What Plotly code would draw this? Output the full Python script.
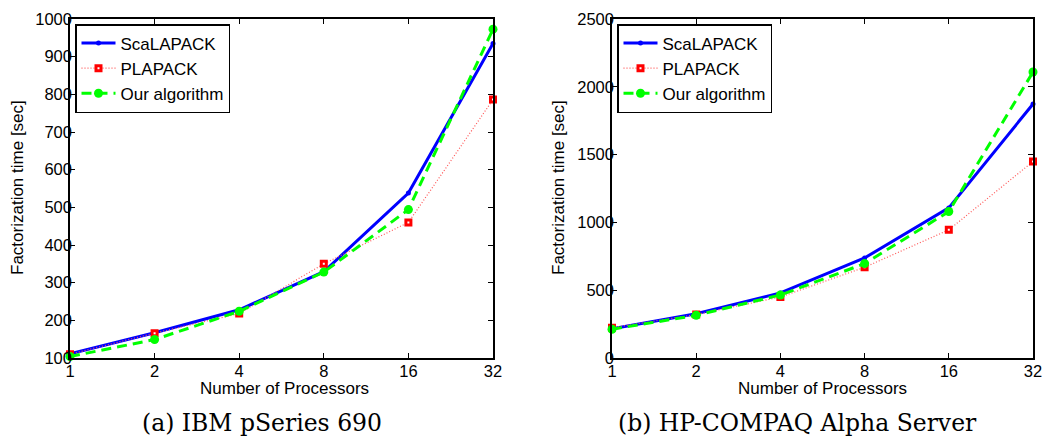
import plotly.graph_objects as go

procs = [1, 2, 4, 8, 16, 32]
tick_labels = ["1", "2", "4", "8", "16", "32"]

# (a) IBM pSeries 690
ibm_scalapack = [111, 167, 228, 329, 538, 935]
ibm_plapack = [110, 166, 218, 350, 460, 786]
ibm_ours = [104, 149, 224, 328, 494, 973]

# (b) HP-COMPAQ Alpha Server
hp_scalapack = [216, 327, 480, 738, 1107, 1873]
hp_plapack = [224, 320, 450, 669, 945, 1449]
hp_ours = [212, 315, 465, 696, 1080, 2109]

series_names = ["ScaLAPACK", "PLAPACK", "Our algorithm"]
captions = ["(a) IBM pSeries 690", "(b) HP-COMPAQ Alpha Server"]
x_title = "Number of Processors"
y_title = "Factorization time [sec]"

BLUE = "#0000ff"
RED = "#ff0000"
GREEN = "#00ff00"

fig = go.Figure()

def add_series(vals, xa, ya, leg):
    s, p, o = vals
    fig.add_trace(go.Scatter(
        x=procs, y=s, name=series_names[0], mode="lines+markers",
        line=dict(color=BLUE, width=3),
        marker=dict(symbol="circle", size=5, color=BLUE),
        xaxis=xa, yaxis=ya, legend=leg, cliponaxis=False))
    fig.add_trace(go.Scatter(
        x=procs, y=p, name=series_names[1], mode="lines+markers",
        line=dict(color="#ff5555", width=1.2, dash="1px,2px"),
        marker=dict(symbol="square", size=5, color="white",
                    line=dict(color=RED, width=3)),
        xaxis=xa, yaxis=ya, legend=leg, cliponaxis=False))
    fig.add_trace(go.Scatter(
        x=procs, y=o, name=series_names[2], mode="lines+markers",
        line=dict(color=GREEN, width=3, dash="10px,6px"),
        marker=dict(symbol="circle", size=9, color=GREEN),
        xaxis=xa, yaxis=ya, legend=leg, cliponaxis=False))

add_series((ibm_scalapack, ibm_plapack, ibm_ours), "x", "y", "legend")
add_series((hp_scalapack, hp_plapack, hp_ours), "x2", "y2", "legend2")

# The page body has an 8px margin: the figure starts at (8, 8) in the window,
# so place everything in window pixel terms shifted by 8px.
OFF = 8
W, H = 1052 - OFF, 437 - OFF

def px(x):
    return (x - OFF) / W

def py(y):
    return 1 - (y - OFF) / H

SANS = "Liberation Sans, Arial, sans-serif"
axis_font = dict(family=SANS, size=16.5, color="black")
title_font = dict(family=SANS, size=17, color="black")

def xaxis_cfg(x0, x1, anchor):
    return dict(
        domain=[px(x0), px(x1)], anchor=anchor, type="log", automargin=False,
        range=[0, 1.50515], tickvals=procs, ticktext=tick_labels,
        ticks="inside", ticklen=5, tickwidth=1, tickcolor="black",
        showline=True, linecolor="black", linewidth=1.5, mirror="ticks",
        showgrid=False, zeroline=False, tickfont=axis_font,
        ticklabelstandoff=-3,
    )

def yaxis_cfg(anchor, rng, dtick):
    return dict(
        domain=[py(358), py(19)], anchor=anchor, range=rng, dtick=dtick,
        automargin=False,
        ticks="inside", ticklen=5, tickwidth=1, tickcolor="black",
        showline=True, linecolor="black", linewidth=1.5, mirror="ticks",
        showgrid=False, zeroline=False, tickfont=axis_font,
        ticklabelstandoff=-7,
    )

legend_common = dict(
    font=dict(family=SANS, size=17, color="black"),
    bgcolor="white", bordercolor="black", borderwidth=1.5,
    xanchor="left", yanchor="top", tracegroupgap=0, itemwidth=34,
)

def ann(text, x, y, font, angle=0):
    return dict(text=text, x=px(x), y=py(y), xref="paper", yref="paper",
                showarrow=False, xanchor="center", yanchor="middle",
                textangle=angle, font=font)

cap_font = dict(family="DejaVu Serif, serif", size=23.5, color="black")

fig.update_layout(
    width=W, height=H,
    margin=dict(l=0, r=0, t=0, b=0, autoexpand=False),
    paper_bgcolor="white", plot_bgcolor="white",
    xaxis=xaxis_cfg(70, 493, "y"),
    yaxis=yaxis_cfg("x", [100, 1000], 100),
    xaxis2=xaxis_cfg(612, 1033, "y2"),
    yaxis2=yaxis_cfg("x2", [0, 2500], 500),
    legend=dict(x=px(75), y=py(24), **legend_common),
    legend2=dict(x=px(617), y=py(24), **legend_common),
    annotations=[
        ann(x_title, 284, 388, title_font),
        ann(x_title, 822, 388, title_font),
        ann(y_title, 17, 188, title_font, -90),
        ann(y_title, 558, 188, title_font, -90),
        ann(captions[0], 262, 423, cap_font),
        ann(captions[1], 797, 423, cap_font),
    ],
)

fig.write_html("out.html")
